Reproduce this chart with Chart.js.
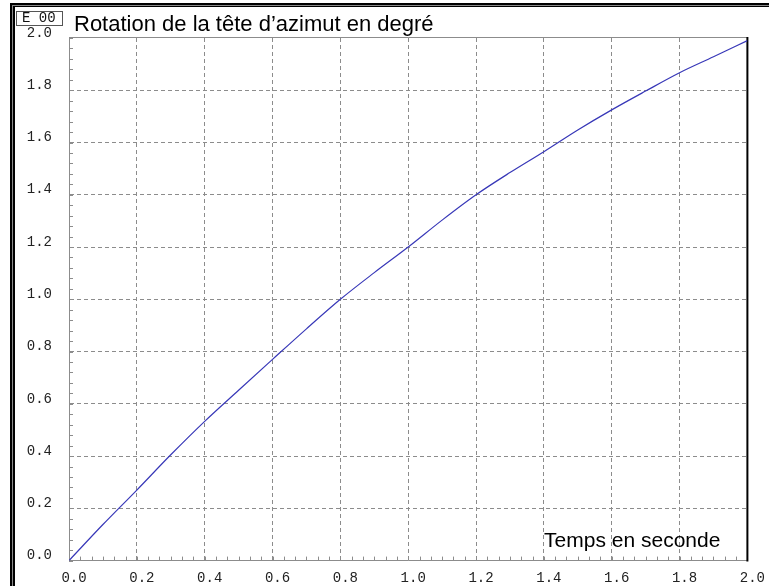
<!DOCTYPE html>
<html lang="fr">
<head>
<meta charset="utf-8">
<title>Rotation de la tête d’azimut</title>
<script src="https://cdn.jsdelivr.net/npm/chart.js@4.4.0/dist/chart.umd.min.js"></script>
<style>
  html, body { margin: 0; padding: 0; background: #fff; overflow: hidden; }
  #wrap { position: relative; width: 769px; height: 586px; overflow: hidden; }
  #chart { position: absolute; left: 0; top: 0; }
  /* window frame, cut off on the right and at the bottom */
  .f1 { position: absolute; left: 10px; top: 3px; width: 900px; height: 700px;
        border-left: 2px solid #000; border-top: 2px solid #000; }
  .f2 { height: 100%; border-left: 1px solid #8a8a8a; border-top: 1px solid #8a8a8a; }
  .f3 { height: 100%; border-left: 2px solid #000; border-top: 1px solid #000; }
  #expo { position: absolute; left: 16px; top: 11px; width: 40px; height: 13px;
          padding-left: 5px; border: 1px solid #555; background: #fff;
          font: 14px 'Liberation Mono', monospace; line-height: 13px;
          white-space: pre; color: #111; z-index: 2; }
</style>
</head>
<body>
<div id="wrap">
  <div class="f1"><div class="f2"><div class="f3"></div></div></div>
  <canvas id="chart" width="769" height="586"></canvas>
  <div id="expo">E 00</div>
</div>
<script>
// ── Data ─────────────────────────────────────────────────────
const times    = [0.0, 0.1, 0.2, 0.3, 0.4, 0.5, 0.6, 0.7, 0.8, 0.9, 1.0,
                  1.1, 1.2, 1.3, 1.4, 1.5, 1.6, 1.7, 1.8, 1.9, 2.0];
const rotation = [0.0, 0.138, 0.27, 0.405, 0.533, 0.652, 0.77, 0.887, 1.0, 1.102, 1.20,
                  1.303, 1.40, 1.485, 1.565, 1.648, 1.725, 1.797, 1.867, 1.928, 1.99];
const xTicks = [0.0, 0.2, 0.4, 0.6, 0.8, 1.0, 1.2, 1.4, 1.6, 1.8, 2.0];
const yTicks = [0.0, 0.2, 0.4, 0.6, 0.8, 1.0, 1.2, 1.4, 1.6, 1.8, 2.0];
const titleText = 'Rotation de la tête d’azimut en degré';
const xAxisText = 'Temps en seconde';

const gridGray = '#8c8c8c';
const monoFont = { family: "'Liberation Mono', monospace", size: 14 };

// hide the dashed grid line where the axis border already sits
const gridColor = ctx => {
  const v = ctx.tick ? ctx.tick.value : null;
  return (v === 0 || v === 2) ? 'rgba(0,0,0,0)' : gridGray;
};

// ── Minor ticks, top/right border, in-plot captions ─────────
const decor = {
  id: 'decor',
  beforeDatasetsDraw(chart) {
    const { ctx, chartArea: a, scales: { x, y } } = chart;
    ctx.save();
    ctx.strokeStyle = gridGray;
    ctx.lineWidth = 1;
    ctx.beginPath();
    for (let i = 0; i <= 50; i++) {           // 5 steps per 0.2 on y
      const py = Math.round(y.getPixelForValue(i * 0.04)) + 0.5;
      ctx.moveTo(a.left, py); ctx.lineTo(a.left + 4, py);
    }
    for (let i = 0; i <= 60; i++) {           // 6 steps per 0.2 on x
      const px = Math.round(x.getPixelForValue(i * 0.2 / 6)) + 0.5;
      ctx.moveTo(px, a.bottom); ctx.lineTo(px, a.bottom - 4);
    }
    // top border
    ctx.moveTo(a.left, a.top - 0.5); ctx.lineTo(a.right, a.top - 0.5);
    ctx.stroke();
    // right border
    ctx.strokeStyle = '#000';
    ctx.lineWidth = 2;
    ctx.beginPath();
    ctx.moveTo(a.right, a.top - 1); ctx.lineTo(a.right, a.bottom + 1);
    ctx.stroke();
    ctx.restore();
  },
  afterDraw(chart) {
    const { ctx, chartArea: a } = chart;
    ctx.save();
    ctx.fillStyle = '#000';
    ctx.textBaseline = 'alphabetic';
    ctx.textAlign = 'left';
    ctx.font = "22px 'Liberation Sans', Arial, sans-serif";
    ctx.fillText(titleText, a.left + 5, 31);
    ctx.textAlign = 'right';
    ctx.font = "21px 'Liberation Sans', Arial, sans-serif";
    ctx.fillText(xAxisText, a.right - 27, a.bottom - 14);
    ctx.restore();
  }
};

new Chart(document.getElementById('chart'), {
  type: 'line',
  data: {
    datasets: [{
      data: times.map((t, i) => ({ x: t, y: rotation[i] })),
      borderColor: '#3838b8',
      borderWidth: 1.2,
      pointRadius: 0,
      fill: false,
      cubicInterpolationMode: 'monotone'
    }]
  },
  options: {
    responsive: false,
    animation: false,
    layout: { padding: { left: 0, top: 38, right: 19, bottom: 0 } },
    plugins: { legend: { display: false }, tooltip: { enabled: false } },
    scales: {
      x: {
        type: 'linear', min: 0, max: 2,
        afterFit: s => { s.height = 25; },
        afterBuildTicks: s => { s.ticks = xTicks.map(v => ({ value: v })); },
        grid: { color: gridColor, drawTicks: false },
        border: { display: true, color: gridGray, width: 1, dash: [4, 3] },
        ticks: {
          color: '#222', font: monoFont, padding: 9, labelOffset: 5,
          maxRotation: 0, autoSkip: false,
          callback: v => v.toFixed(1)
        }
      },
      y: {
        type: 'linear', min: 0, max: 2,
        afterFit: s => { s.width = 69; },
        afterBuildTicks: s => { s.ticks = yTicks.map(v => ({ value: v })); },
        grid: { color: gridColor, drawTicks: false },
        border: { display: true, color: gridGray, width: 1, dash: [4, 3] },
        ticks: {
          color: '#222', font: monoFont, padding: 17, labelOffset: -5,
          autoSkip: false,
          callback: v => v.toFixed(1)
        }
      }
    }
  },
  plugins: [decor]
});
</script>
</body>
</html>
